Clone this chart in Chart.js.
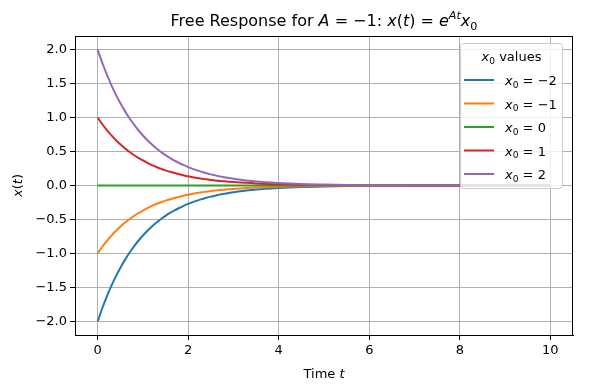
<!DOCTYPE html>
<html>
<head>
<meta charset="utf-8">
<script src="https://cdn.jsdelivr.net/npm/chart.js@4/dist/chart.umd.min.js"></script>
<style>
  html, body { margin: 0; padding: 0; background: #fff; }
  #wrap { width: 590px; height: 390px; position: relative; }
</style>
</head>
<body>
<div id="wrap"><canvas id="chartCanvas"></canvas></div>
<script>
// values
const timePoints = [0, 0.1, 0.2, 0.3, 0.4, 0.5, 0.6, 0.7, 0.8, 0.9, 1.0, 1.1, 1.2, 1.3, 1.4, 1.5, 1.6, 1.7, 1.8, 1.9, 2.0,
  2.1, 2.2, 2.3, 2.4, 2.5, 2.6, 2.7, 2.8, 2.9, 3.0, 3.5, 4.0, 4.5, 5.0, 5.5, 6.0, 7.0, 8.0, 9.0, 10.0];
const seriesPlus1 = [1.000, 0.905, 0.819, 0.741, 0.670, 0.607, 0.549, 0.497, 0.449, 0.407, 0.368, 0.333, 0.301, 0.273, 0.247, 0.223, 0.202, 0.183, 0.165, 0.150, 0.135,
  0.122, 0.111, 0.100, 0.091, 0.082, 0.074, 0.067, 0.061, 0.055, 0.050, 0.030, 0.018, 0.011, 0.0067, 0.0041, 0.0025, 0.0009, 0.0003, 0.0001, 0.00005];
const seriesPlus2 = [2.000, 1.810, 1.638, 1.482, 1.341, 1.213, 1.098, 0.993, 0.899, 0.813, 0.736, 0.666, 0.602, 0.545, 0.493, 0.446, 0.404, 0.365, 0.331, 0.299, 0.271,
  0.245, 0.222, 0.201, 0.181, 0.164, 0.149, 0.134, 0.122, 0.110, 0.100, 0.060, 0.037, 0.022, 0.0135, 0.0082, 0.0050, 0.0018, 0.0007, 0.0002, 0.0001];
const seriesZero = [0, 0, 0, 0, 0, 0, 0, 0, 0, 0, 0, 0, 0, 0, 0, 0, 0, 0, 0, 0, 0,
  0, 0, 0, 0, 0, 0, 0, 0, 0, 0, 0, 0, 0, 0, 0, 0, 0, 0, 0, 0];
const seriesMinus1 = [-1.000, -0.905, -0.819, -0.741, -0.670, -0.607, -0.549, -0.497, -0.449, -0.407, -0.368, -0.333, -0.301, -0.273, -0.247, -0.223, -0.202, -0.183, -0.165, -0.150, -0.135,
  -0.122, -0.111, -0.100, -0.091, -0.082, -0.074, -0.067, -0.061, -0.055, -0.050, -0.030, -0.018, -0.011, -0.0067, -0.0041, -0.0025, -0.0009, -0.0003, -0.0001, -0.00005];
const seriesMinus2 = [-2.000, -1.810, -1.638, -1.482, -1.341, -1.213, -1.098, -0.993, -0.899, -0.813, -0.736, -0.666, -0.602, -0.545, -0.493, -0.446, -0.404, -0.365, -0.331, -0.299, -0.271,
  -0.245, -0.222, -0.201, -0.181, -0.164, -0.149, -0.134, -0.122, -0.110, -0.100, -0.060, -0.037, -0.022, -0.0135, -0.0082, -0.0050, -0.0018, -0.0007, -0.0002, -0.0001];
const initialValues = ["\u22122", "\u22121", "0", "1", "2"];
const seriesColors = ["#1f77b4", "#ff7f0e", "#2ca02c", "#d62728", "#9467bd"];
const xTicks = [0, 2, 4, 6, 8, 10];
const yTicks = [-2.0, -1.5, -1.0, -0.5, 0.0, 0.5, 1.0, 1.5, 2.0];

const allSeries = [seriesMinus2, seriesMinus1, seriesZero, seriesPlus1, seriesPlus2];
const FONT = "'DejaVu Sans', sans-serif";

// draw text made of plain / italic / sub / sup pieces
function richWidth(ctx, segs, size) {
  let w = 0;
  segs.forEach(s => {
    const sz = (s.sub || s.sup) ? size * 0.7 : size;
    ctx.font = (s.it ? "italic " : "") + sz + "px " + FONT;
    w += ctx.measureText(s.t).width;
  });
  return w;
}
function drawRich(ctx, segs, x, y, size, align) {
  let cx = x;
  if (align === "center") cx = x - richWidth(ctx, segs, size) / 2;
  ctx.textBaseline = "alphabetic";
  ctx.textAlign = "left";
  ctx.fillStyle = "#000";
  segs.forEach(s => {
    const sz = (s.sub || s.sup) ? size * 0.7 : size;
    ctx.font = (s.it ? "italic " : "") + sz + "px " + FONT;
    let dy = 0;
    if (s.sub) dy = size * 0.22;
    if (s.sup) dy = -size * 0.42;
    ctx.fillText(s.t, cx, y + dy);
    cx += ctx.measureText(s.t).width;
  });
}

const textPlugin = {
  id: "textPlugin",
  afterDraw(chart) {
    const ctx = chart.ctx;
    const area = chart.chartArea;
    ctx.save();
    // frame
    ctx.strokeStyle = "#000";
    ctx.lineWidth = 1;
    ctx.strokeRect(Math.round(area.left) + 0.5, Math.round(area.top) + 0.5,
      Math.round(area.right - area.left) - 1, Math.round(area.bottom - area.top));

    // title
    const mid = (area.left + area.right) / 2;
    drawRich(ctx, [
      { t: "Free Response for " }, { t: "A", it: true }, { t: " = \u22121: " },
      { t: "x", it: true }, { t: "(" }, { t: "t", it: true }, { t: ") = " },
      { t: "e", it: true }, { t: "At", it: true, sup: true },
      { t: "x", it: true }, { t: "0", sub: true }
    ], mid, 26, 16, "center");

    // x axis title
    drawRich(ctx, [{ t: "Time " }, { t: "t", it: true }], mid, 378, 13, "center");

    // y axis title
    ctx.save();
    ctx.translate(22, (area.top + area.bottom) / 2);
    ctx.rotate(-Math.PI / 2);
    drawRich(ctx, [{ t: "x", it: true }, { t: "(" }, { t: "t", it: true }, { t: ")" }], 0, 0, 13, "center");
    ctx.restore();

    // legend inside top-right
    const bx = 460.5, by = 43.5, bw = 102, bh = 145;
    ctx.beginPath();
    ctx.roundRect(bx, by, bw, bh, 3);
    ctx.fillStyle = "rgba(255,255,255,0.8)";
    ctx.fill();
    ctx.strokeStyle = "#cccccc";
    ctx.lineWidth = 1;
    ctx.stroke();
    drawRich(ctx, [{ t: "x", it: true }, { t: "0", sub: true }, { t: " values" }], bx + bw / 2, 61, 13, "center");
    chart.data.datasets.forEach((ds, i) => {
      const ly = 80 + i * 23.5;
      ctx.beginPath();
      ctx.moveTo(464, ly);
      ctx.lineTo(494, ly);
      ctx.strokeStyle = ds.borderColor;
      ctx.lineWidth = 2;
      ctx.stroke();
      drawRich(ctx, [{ t: "x", it: true }, { t: "0", sub: true }, { t: " = " + initialValues[i] }], 505, ly + 5, 13, "left");
    });
    ctx.restore();
  }
};

new Chart(document.getElementById("chartCanvas"), {
  type: "line",
  data: {
    datasets: allSeries.map((vals, i) => ({
      label: "x0 = " + initialValues[i],
      data: timePoints.map((t, k) => ({ x: t, y: vals[k] })),
      borderColor: seriesColors[i],
      backgroundColor: seriesColors[i],
      borderWidth: 2,
      pointRadius: 0,
      cubicInterpolationMode: "monotone",
      order: 4 - i
    }))
  },
  options: {
    responsive: true,
    maintainAspectRatio: false,
    animation: false,
    layout: { padding: { left: 0, right: 17, top: 36, bottom: 0 } },
    plugins: {
      legend: { display: false },
      title: { display: false },
      tooltip: { enabled: false }
    },
    scales: {
      x: {
        type: "linear",
        min: -0.5,
        max: 10.5,
        afterBuildTicks: s => { s.ticks = xTicks.map(v => ({ value: v })); },
        afterFit: s => { s.height = 55; },
        ticks: {
          color: "#000",
          font: { family: FONT, size: 13 },
          padding: 3,
          maxRotation: 0,
          callback: v => String(v)
        },
        grid: { color: "#b0b0b0", lineWidth: 1, tickColor: "#000", tickLength: 5 },
        border: { color: "#000" }
      },
      y: {
        type: "linear",
        min: -2.2,
        max: 2.2,
        afterBuildTicks: s => { s.ticks = yTicks.map(v => ({ value: v })); },
        afterFit: s => { s.width = 75; },
        ticks: {
          color: "#000",
          font: { family: FONT, size: 13 },
          padding: 3,
          callback: v => v.toFixed(1).replace("-", "\u2212")
        },
        grid: { color: "#b0b0b0", lineWidth: 1, tickColor: "#000", tickLength: 5 },
        border: { color: "#000" }
      }
    }
  },
  plugins: [textPlugin]
});
</script>
</body>
</html>
